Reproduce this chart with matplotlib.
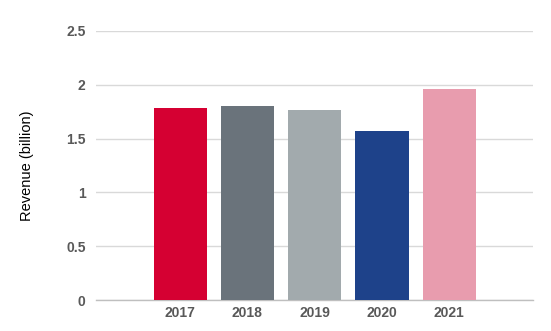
import matplotlib
matplotlib.use('Agg')
from matplotlib import pyplot as plt

years = ['2017', '2018', '2019', '2020', '2021']
revenue = [1.78, 1.80, 1.77, 1.57, 1.96]
bar_colors = ['#D50032', '#6A737B', '#A2AAAD', '#1E428A', '#E89CAE']
y_ticks = [0, 0.5, 1, 1.5, 2, 2.5]
y_labels = ['0', '0.5', '1', '1.5', '2', '2.5']

plt.rcParams['font.family'] = ['Liberation Sans', 'DejaVu Sans']

fig = plt.figure(figsize=(5.51, 3.31), dpi=100)
ax = fig.add_axes([96 / 551, 31 / 331, 437 / 551, 269 / 331])

x = list(range(len(years)))
ax.bar(x, revenue, width=0.79, color=bar_colors, zorder=3)

ax.set_ylim(0, 2.5)
ax.set_xlim(-1.25, 5.245)
ax.set_yticks(y_ticks)
ax.set_yticklabels(y_labels)
ax.set_xticks(x)
ax.set_xticklabels(years)

for lbl in ax.get_xticklabels() + ax.get_yticklabels():
    lbl.set_fontweight('bold')
    lbl.set_color('#595959')
    lbl.set_fontsize(10)

ax.tick_params(axis='both', length=0)
ax.tick_params(axis='y', pad=7.5)
ax.tick_params(axis='x', pad=4)

# gridlines
ax.yaxis.grid(True, color='#D9D9D9', linewidth=1.0, zorder=0)
for s in ['top', 'right', 'left']:
    ax.spines[s].set_visible(False)
ax.spines['bottom'].set_color('#BFBFBF')
ax.spines['bottom'].set_linewidth(1.0)

ax.set_ylabel('Revenue (billion)', fontsize=10.5, color='black', labelpad=0)
ax.yaxis.set_label_coords(-(96 - 34) / 437, 0.5)

fig.savefig('out.png', dpi=100)
